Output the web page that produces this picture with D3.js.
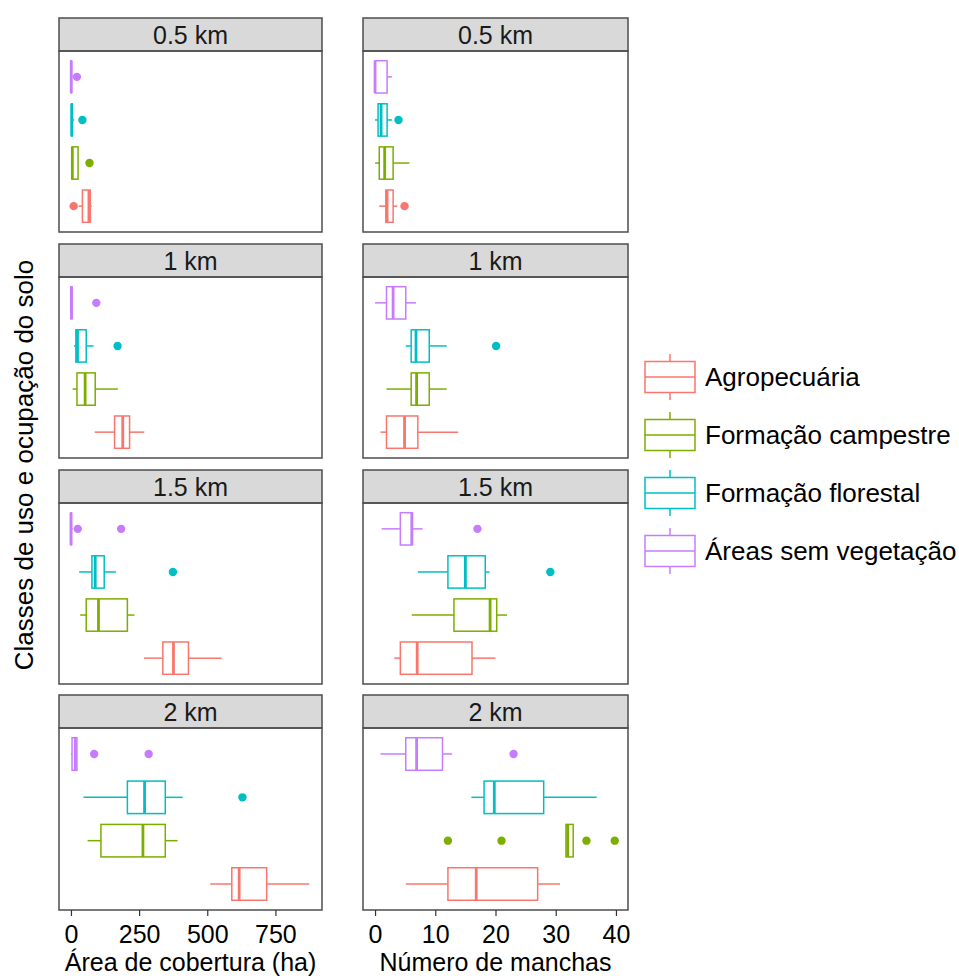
<!DOCTYPE html>
<html>
<head>
<meta charset="utf-8">
<script src="https://cdn.jsdelivr.net/npm/d3@7"></script>
<style>
  body { margin: 0; background: #fff; }
  text { font-family: "Liberation Sans", Arial, sans-serif; }
</style>
</head>
<body>
<svg id="chart" width="959" height="978"></svg>
<script>
// classes, bottom to top inside each panel
const classes = ["Agropecuária", "Formação campestre", "Formação florestal", "Áreas sem vegetação"];
const classColors = ["#F8766D", "#7CAE00", "#00BFC4", "#C77CFF"];
const distances = ["0.5 km", "1 km", "1.5 km", "2 km"];
const areaTicks = [0, 250, 500, 750];
const patchTicks = [0, 10, 20, 30, 40];

// [lower whisker, q1, median, q3, upper whisker] per class
const area05 = [[28, 42, 66, 71, 76], [0, 4, 5, 26, 26], [0, 2, 3, 5, 12], [0, 0, 1, 2, 4]];
const area1 = [[87, 160, 190, 215, 269], [6, 22, 52, 89, 172], [11, 18, 24, 56, 83], [0, 0, 2, 4, 4]];
const area15 = [[268, 337, 376, 431, 553], [34, 56, 101, 207, 233], [30, 77, 89, 122, 165], [0, 0, 0, 2, 6]];
const area2 = [[511, 590, 617, 718, 874], [61, 110, 264, 346, 391], [46, 207, 270, 346, 410], [0, 4, 16, 22, 22]];
const areaOut05 = [[10], [68], [42], [22]];
const areaOut1 = [[], [], [171], [93]];
const areaOut15 = [[], [], [374], [25, 184]];
const areaOut2 = [[], [], [629], [85, 285]];

const patch05 = [[0.7, 1.8, 2, 3, 3.7], [0, 0.7, 1.6, 3, 5.7], [0, 0.5, 1, 2, 2.8], [0, 0, 0, 2, 2.8]];
const patch1 = [[0.9, 1.9, 4.9, 7.1, 13.8], [1.9, 6, 6.9, 9, 11.9], [5.1, 6, 6.8, 9, 11.9], [0, 1.9, 3, 5.1, 6.8]];
const patch15 = [[3.2, 4.2, 7, 16.1, 20], [6.1, 13.1, 19.1, 20.2, 21.9], [7.1, 12.1, 15, 18.3, 19], [1.1, 4.2, 6.1, 6.2, 7.9]];
const patch2 = [[5.1, 12.1, 16.8, 27, 30.7], [31.7, 31.7, 32, 32.9, 32.9], [16, 18.1, 19.8, 28, 36.8], [0.9, 5.1, 6.9, 11.2, 12.8]];
const patchOut05 = [[4.9], [], [3.9], []];
const patchOut1 = [[], [], [20.1], []];
const patchOut15 = [[], [], [29.1], [17]];
const patchOut2 = [[], [12.1, 21, 35.1, 39.8], [], [23]];

const columns = [
  { boxes: [area05, area1, area15, area2], outs: [areaOut05, areaOut1, areaOut15, areaOut2],
    domain: [-43.85, 920.85], ticks: areaTicks, title: "Área de cobertura (ha)", x0: 59, x1: 322 },
  { boxes: [patch05, patch1, patch15, patch2], outs: [patchOut05, patchOut1, patchOut15, patchOut2],
    domain: [-2, 42], ticks: patchTicks, title: "Número de manchas", x0: 363, x1: 628 }
];

const stripTops = [18, 244, 470, 695];
const stripH = 33;
const bodyBottoms = [232, 458, 684, 910];
const border = "#4d4d4d";

const svg = d3.select("#chart");

columns.forEach((col) => {
  const x = d3.scaleLinear().domain(col.domain).range([col.x0, col.x1]);

  distances.forEach((dist, r) => {
    const top = stripTops[r] + stripH;
    const bottom = bodyBottoms[r];
    const y = d3.scalePoint()
      .domain(classes)
      .range([bottom, top])
      .padding(0.6);
    const boxH = y.step() * 0.75;

    // strip
    svg.append("rect")
      .attr("x", col.x0).attr("y", stripTops[r])
      .attr("width", col.x1 - col.x0).attr("height", stripH)
      .attr("fill", "#d9d9d9").attr("stroke", border).attr("stroke-width", 1.5);
    svg.append("text")
      .attr("x", (col.x0 + col.x1) / 2).attr("y", stripTops[r] + stripH / 2)
      .attr("dy", "0.36em").attr("text-anchor", "middle")
      .attr("font-size", 25).attr("fill", "#1a1a1a")
      .text(dist);

    const g = svg.append("g");
    const stats = col.boxes[r];
    const outs = col.outs[r];

    classes.forEach((cls, i) => {
      const s = stats[i];
      const cy = y(cls);
      const c = classColors[i];
      // whiskers
      g.append("line")
        .attr("x1", x(s[0])).attr("x2", x(s[1]))
        .attr("y1", cy).attr("y2", cy)
        .attr("stroke", c).attr("stroke-width", 1.5);
      g.append("line")
        .attr("x1", x(s[3])).attr("x2", x(s[4]))
        .attr("y1", cy).attr("y2", cy)
        .attr("stroke", c).attr("stroke-width", 1.5);
      // box
      g.append("rect")
        .attr("x", x(s[1])).attr("y", cy - boxH / 2)
        .attr("width", x(s[3]) - x(s[1])).attr("height", boxH)
        .attr("fill", "#fff").attr("stroke", c).attr("stroke-width", 1.5);
      // median
      g.append("line")
        .attr("x1", x(s[2])).attr("x2", x(s[2]))
        .attr("y1", cy - boxH / 2).attr("y2", cy + boxH / 2)
        .attr("stroke", c).attr("stroke-width", 2.8);
      // outliers
      g.selectAll(null)
        .data(outs[i]).enter()
        .append("circle")
        .attr("cx", (d) => x(d)).attr("cy", cy).attr("r", 4.2)
        .attr("fill", c);
    });

    // panel border
    svg.append("rect")
      .attr("x", col.x0).attr("y", top)
      .attr("width", col.x1 - col.x0).attr("height", bottom - top)
      .attr("fill", "none").attr("stroke", border).attr("stroke-width", 1.5);

    if (r === distances.length - 1) {
      const axis = svg.append("g")
        .attr("transform", `translate(0, ${bottom})`)
        .call(d3.axisBottom(x).tickValues(col.ticks).tickSize(6).tickPadding(9).tickSizeOuter(0));
      axis.select(".domain").remove();
      axis.selectAll(".tick line").attr("stroke", "#333").attr("stroke-width", 1.2);
      axis.selectAll(".tick text")
        .attr("font-size", 25).attr("fill", "#000")
        .style("font-family", "'Liberation Sans', Arial, sans-serif");
      svg.append("text")
        .attr("x", (col.x0 + col.x1) / 2).attr("y", 971)
        .attr("text-anchor", "middle").attr("font-size", 25)
        .text(col.title);
    }
  });
});

// y axis title
svg.append("text")
  .attr("transform", "translate(33, 465) rotate(-90)")
  .attr("text-anchor", "middle").attr("font-size", 26)
  .text("Classes de uso e ocupação do solo");

// legend
const legend = svg.append("g").attr("transform", "translate(645, 377)");
classes.forEach((cls, i) => {
  const k = legend.append("g").attr("transform", `translate(0, ${i * 58})`);
  const c = classColors[i];
  k.append("line").attr("x1", 25).attr("x2", 25).attr("y1", -23).attr("y2", 23)
    .attr("stroke", c).attr("stroke-width", 1.5);
  k.append("rect").attr("x", 0).attr("y", -15.5).attr("width", 50).attr("height", 31)
    .attr("fill", "#fff").attr("stroke", c).attr("stroke-width", 1.5);
  k.append("line").attr("x1", 0).attr("x2", 50).attr("y1", 0).attr("y2", 0)
    .attr("stroke", c).attr("stroke-width", 1.5);
  k.append("text").attr("x", 60).attr("y", 0).attr("dy", "0.36em")
    .attr("font-size", 26).text(cls);
});
</script>
</body>
</html>
